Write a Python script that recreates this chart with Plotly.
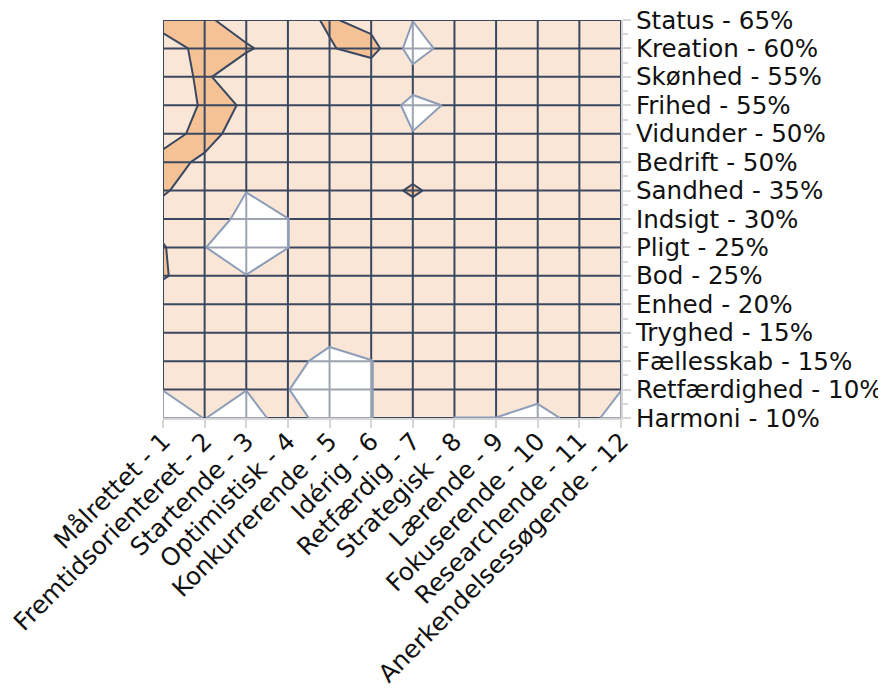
import plotly.graph_objects as go

# ---- categories -------------------------------------------------------
x_names = ["Målrettet", "Fremtidsorienteret", "Startende", "Optimistisk",
           "Konkurrerende", "Idérig", "Retfærdig", "Strategisk", "Lærende",
           "Fokuserende", "Researchende", "Anerkendelsessøgende"]
x_numbers = [1, 2, 3, 4, 5, 6, 7, 8, 9, 10, 11, 12]

y_names = ["Harmoni", "Retfærdighed", "Fællesskab", "Tryghed", "Enhed", "Bod",
           "Pligt", "Indsigt", "Sandhed", "Bedrift", "Vidunder", "Frihed",
           "Skønhed", "Kreation", "Status"]
y_percent = [10, 10, 15, 15, 20, 25, 25, 30, 35, 50, 50, 55, 55, 60, 65]

# ---- values (one row per y category, bottom -> top) -------------------
row_harmoni      = [0.50, 1.02, 0.50, 1.50, 0.50, 0.98, 1.50, 0.99, 0.99, 0.50, 1.44, 0.56]
row_retfaerdighed= [1.02, 1.50, 1.02, 1.02, 0.50, 0.98, 1.50, 1.50, 1.50, 1.50, 1.50, 1.02]
row_faellesskab  = [1.50, 1.50, 1.50, 1.50, 0.50, 0.98, 1.50, 1.50, 1.50, 1.50, 1.50, 1.50]
row_tryghed      = [1.50, 1.50, 1.50, 1.50, 1.50, 1.50, 1.50, 1.50, 1.50, 1.50, 1.50, 1.50]
row_enhed        = [1.50, 1.50, 1.50, 1.50, 1.50, 1.50, 1.50, 1.50, 1.50, 1.50, 1.50, 1.50]
row_bod          = [2.08, 1.50, 1.02, 1.50, 1.50, 1.50, 1.50, 1.50, 1.50, 1.50, 1.50, 1.50]
row_pligt        = [2.08, 1.02, 0.50, 0.99, 1.50, 1.50, 1.50, 1.50, 1.50, 1.50, 1.50, 1.50]
row_indsigt      = [1.57, 1.50, 0.70, 0.99, 1.50, 1.50, 1.50, 1.50, 1.50, 1.50, 1.50, 1.50]
row_sandhed      = [2.10, 1.50, 1.02, 1.50, 1.50, 1.50, 2.15, 1.50, 1.50, 1.50, 1.50, 1.50]
row_bedrift      = [2.40, 1.80, 1.50, 1.50, 1.50, 1.50, 1.50, 1.50, 1.50, 1.50, 1.50, 1.50]
row_vidunder     = [1.50, 2.40, 1.45, 1.50, 1.50, 1.50, 1.02, 1.50, 1.50, 1.50, 1.50, 1.50]
row_frihed       = [1.50, 2.10, 1.97, 1.50, 1.50, 1.50, 0.80, 1.09, 1.50, 1.50, 1.50, 1.50]
row_skoenhed     = [1.60, 2.15, 1.30, 1.50, 1.50, 1.22, 1.35, 1.50, 1.50, 1.50, 1.50, 1.50]
row_kreation     = [1.70, 2.20, 2.12, 1.50, 1.92, 2.40, 0.56, 1.44, 1.50, 1.50, 1.50, 1.50]
row_status       = [2.26, 2.17, 1.49, 1.60, 2.12, 1.60, 1.02, 1.50, 1.50, 1.50, 1.50, 1.50]

z_rows = [row_harmoni, row_retfaerdighed, row_faellesskab, row_tryghed, row_enhed,
          row_bod, row_pligt, row_indsigt, row_sandhed, row_bedrift, row_vidunder,
          row_frihed, row_skoenhed, row_kreation, row_status]

low_level = 1.0    # white / peach boundary
high_level = 2.0   # peach / orange boundary

# ---- derived labels / positions --------------------------------------
x_labels = [f"{n} - {k}" for n, k in zip(x_names, x_numbers)]
y_labels = [f"{n} - {p}%" for n, p in zip(y_names, y_percent)]
xpos = list(range(1, len(x_names) + 1))
ypos = list(range(1, len(y_names) + 1))

DARK = "#3a4760"
BLUEGREY = "#8d9db8"
AXIS = "#d6d6d6"

fig = go.Figure()

# filled contour (no lines)
fig.add_trace(go.Contour(
    x=xpos, y=ypos, z=z_rows, autocontour=False,
    contours=dict(start=low_level, end=high_level, size=high_level - low_level,
                  coloring="fill", showlines=False),
    colorscale=[[0, "#ffffff"], [0.5, "#fae6d6"], [1, "#f5c295"]],
    line=dict(width=0, smoothing=0), showscale=False, hoverinfo="skip"))

# grid drawn above the fills
gx, gy = [], []
for xv in xpos:
    gx += [xv, xv, None]
    gy += [ypos[0], ypos[-1], None]
for yv in ypos:
    gx += [xpos[0], xpos[-1], None]
    gy += [yv, yv, None]
fig.add_trace(go.Scatter(x=gx, y=gy, mode="lines", line=dict(color=DARK, width=2),
                         hoverinfo="skip", showlegend=False))

# overlay: translucent white on the low region + its boundary
fig.add_trace(go.Contour(
    x=xpos, y=ypos, z=z_rows, xaxis="x2", yaxis="y2",
    contours=dict(type="constraint", operation=">", value=low_level),
    fillcolor="rgba(255,255,255,0.5)", line=dict(color=BLUEGREY, width=2, smoothing=0),
    showscale=False, hoverinfo="skip"))

# overlay: boundary of the high region
fig.add_trace(go.Contour(
    x=xpos, y=ypos, z=z_rows, xaxis="x2", yaxis="y2", autocontour=False,
    contours=dict(start=high_level, end=high_level, size=1, coloring="none"),
    line=dict(color=DARK, width=2, smoothing=0), showscale=False, hoverinfo="skip"))

fig.update_layout(
    width=886, height=688,
    margin=dict(l=155, r=273, t=12, b=278, pad=0),
    paper_bgcolor="white", plot_bgcolor="white", showlegend=False,
    font=dict(family="DejaVu Sans, Verdana, sans-serif", size=24.6, color="#111111"),
    xaxis=dict(range=[xpos[0], xpos[-1]], tickmode="array", tickvals=xpos,
               ticktext=x_labels, tickangle=-45, showgrid=False, zeroline=False,
               showline=True, linecolor=AXIS, linewidth=2, ticks="outside",
               ticklen=8, tickwidth=2, tickcolor=AXIS, automargin=False,
               ticklabeloverflow="allow", ticklabelstandoff=-11),
    yaxis=dict(range=[ypos[0], ypos[-1]], side="right", tickmode="array",
               tickvals=ypos, ticktext=y_labels, showgrid=False, zeroline=False,
               showline=True, linecolor=AXIS, linewidth=2, ticks="outside",
               ticklen=8, tickwidth=2, tickcolor=AXIS, automargin=False,
               ticklabeloverflow="allow",
               minor=dict(tickvals=[v + 0.5 for v in ypos[:-1]], ticks="outside",
                          ticklen=5, tickwidth=2, tickcolor=AXIS, showgrid=False)),
    xaxis2=dict(overlaying="x", anchor="y2", range=[xpos[0], xpos[-1]], visible=False),
    yaxis2=dict(overlaying="y", anchor="x2", range=[ypos[0], ypos[-1]], visible=False),
)

fig.write_html("out.html")
